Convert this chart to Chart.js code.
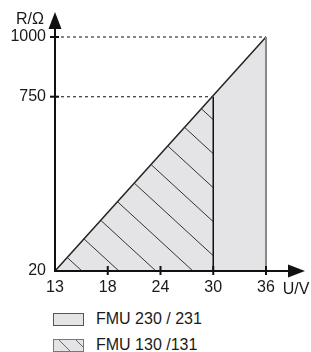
<!DOCTYPE html>
<html>
<head>
<meta charset="utf-8">
<script src="https://cdn.jsdelivr.net/npm/chart.js@4.4.1/dist/chart.umd.min.js"></script>
<style>
    body { margin: 0; background: #fff; font-family: "Liberation Sans", Arial, sans-serif; }
    #wrap { position: relative; width: 311px; height: 352px; overflow: hidden; }
    #box { position: absolute; left: 0; top: 0; width: 311px; height: 300px; }
    .legend-item { position: absolute; left: 53px; height: 14px; font-size: 16px; color: #1a1a1a; }
    .legend-item .sw { position: absolute; left: 0; top: 0; width: 29px; height: 11px; border: 1px solid #555; background: #e4e4e6; }
    .legend-item .sw.hatch { border-color: #777; background: repeating-linear-gradient(45deg, #e4e4e6 0 11px, #666 11px 12px); }
    .legend-item span { position: absolute; left: 43px; top: -3px; white-space: nowrap; }
</style>
</head>
<body>
<div id="wrap">
    <div id="box"><canvas id="myChart"></canvas></div>
</div>
<script>
// data
const xLabels = ['13', '18', '24', '30', '36'];   // U/V, drawn at equal steps
const yTicks = [20, 750, 1000];                   // R/Ω
const fmu230 = [{ x: 0, y: 20 }, { x: 4, y: 1000 }];
const fmu130 = [{ x: 0, y: 20 }, { x: 3, y: 750 }];
const legendLabels = ['FMU 230 / 231', 'FMU 130 /131'];

// hatch pattern for FMU 130
function makeHatch() {
    const w = 37, h = 34;
    const c = document.createElement('canvas');
    c.width = w; c.height = h;
    const g = c.getContext('2d');
    g.strokeStyle = '#333';
    g.lineWidth = 1;
    for (let k = -1; k <= 1; k++) {
        g.beginPath();
        g.moveTo(k * w - w, -h);
        g.lineTo(k * w + 2 * w, 2 * h);
        g.stroke();
    }
    const p = g.createPattern(c, 'repeat');
    p.setTransform(new DOMMatrix([1, 0, 0, 1, 9, 0]));
    return p;
}

// axes with arrows, crossing tick marks and axis names
const axisPlugin = {
    id: 'axisPlugin',
    afterDatasetsDraw(chart) {
        const ctx = chart.ctx;
        const xs = chart.scales.x, ys = chart.scales.y;
        const x0 = xs.getPixelForValue(0), y0 = ys.getPixelForValue(yTicks[0]);
        ctx.save();
        ctx.strokeStyle = '#111';
        ctx.fillStyle = '#111';
        ctx.lineWidth = 2;
        // y axis
        ctx.beginPath();
        ctx.moveTo(x0, y0 + 1);
        ctx.lineTo(x0, 26);
        ctx.stroke();
        ctx.beginPath();
        ctx.moveTo(x0, 12);
        ctx.lineTo(x0 - 6.5, 29);
        ctx.lineTo(x0 + 6.5, 29);
        ctx.closePath();
        ctx.fill();
        // x axis
        ctx.beginPath();
        ctx.moveTo(x0 - 1, y0);
        ctx.lineTo(290, y0);
        ctx.stroke();
        ctx.beginPath();
        ctx.moveTo(305, y0);
        ctx.lineTo(288, y0 - 6.5);
        ctx.lineTo(288, y0 + 6.5);
        ctx.closePath();
        ctx.fill();
        // tick marks
        for (let i = 1; i < xLabels.length; i++) {
            const px = xs.getPixelForValue(i);
            ctx.beginPath();
            ctx.moveTo(px, y0 - 5);
            ctx.lineTo(px, y0 + 4);
            ctx.stroke();
        }
        for (let i = 1; i < yTicks.length; i++) {
            const py = ys.getPixelForValue(yTicks[i]);
            ctx.beginPath();
            ctx.moveTo(x0 - 5, py);
            ctx.lineTo(x0 + 4, py);
            ctx.stroke();
        }
        // axis names
        ctx.font = '16px "Liberation Sans", Arial, sans-serif';
        ctx.fillStyle = '#1a1a1a';
        ctx.textBaseline = 'middle';
        ctx.textAlign = 'center';
        ctx.fillText('R/Ω', 30, 20);
        ctx.fillText('U/V', 296, 290);
        ctx.restore();
    }
};

const ctx = document.getElementById('myChart');
const myChart = new Chart(ctx, {
    type: 'line',
    data: {
        datasets: [
            {   // hatched triangle edge at 30 V
                data: [{ x: 3, y: 20 }, { x: 3, y: 750 }],
                borderColor: '#111', borderWidth: 1.5, pointRadius: 0, fill: false, order: 1
            },
            {   // right edge at 36 V
                data: [{ x: 4, y: 20 }, { x: 4, y: 1000 }],
                borderColor: '#8a8a8a', borderWidth: 2, pointRadius: 0, fill: false, order: 2, clip: 3
            },
            {   // guide lines
                data: [{ x: 0, y: 1000 }, { x: 4, y: 1000 }],
                borderColor: '#444', borderWidth: 1.3, borderDash: [3, 3], pointRadius: 0, fill: false, order: 3, clip: 3
            },
            {
                data: [{ x: 0, y: 750 }, { x: 3, y: 750 }],
                borderColor: '#444', borderWidth: 1.3, borderDash: [3, 3], pointRadius: 0, fill: false, order: 3
            },
            {
                label: legendLabels[1],
                data: fmu130,
                borderColor: 'rgba(0,0,0,0)', borderWidth: 0, pointRadius: 0,
                backgroundColor: makeHatch(), fill: 'start', order: 4
            },
            {
                label: legendLabels[0],
                data: fmu230,
                borderColor: '#222', borderWidth: 1.5, pointRadius: 0,
                backgroundColor: '#e4e4e6', fill: 'start', order: 5, clip: 3
            }
        ]
    },
    options: {
        responsive: true,
        maintainAspectRatio: false,
        animation: false,
        events: [],
        layout: { padding: { top: 37, right: 45, bottom: 0, left: 0 } },
        plugins: { legend: { display: false }, tooltip: { enabled: false } },
        scales: {
            x: {
                type: 'linear', min: 0, max: 4,
                grid: { display: false, drawTicks: false },
                border: { display: false },
                afterBuildTicks: (s) => { s.ticks = xLabels.map((l, i) => ({ value: i })); },
                afterFit: (s) => { s.height = 29; },
                ticks: {
                    padding: 7, color: '#1a1a1a', maxRotation: 0,
                    font: { family: '"Liberation Sans", Arial, sans-serif', size: 16 },
                    callback: (v) => xLabels[v]
                }
            },
            y: {
                type: 'linear', min: 20, max: 1000,
                grid: { display: false, drawTicks: false },
                border: { display: false },
                afterBuildTicks: (s) => { s.ticks = yTicks.map(v => ({ value: v })); },
                afterFit: (s) => { s.width = 55; },
                ticks: {
                    padding: 9, color: '#1a1a1a',
                    font: { family: '"Liberation Sans", Arial, sans-serif', size: 16 },
                    callback: (v) => String(v)
                }
            }
        }
    },
    plugins: [axisPlugin]
});

// legend below the chart
const wrap = document.getElementById('wrap');
legendLabels.forEach((label, i) => {
    const item = document.createElement('div');
    item.className = 'legend-item';
    item.style.top = (313 + i * 26) + 'px';
    item.innerHTML = `<div class="sw${i == 1 ? ' hatch' : ''}"></div><span>${label}</span>`;
    wrap.appendChild(item);
});
</script>
</body>
</html>
